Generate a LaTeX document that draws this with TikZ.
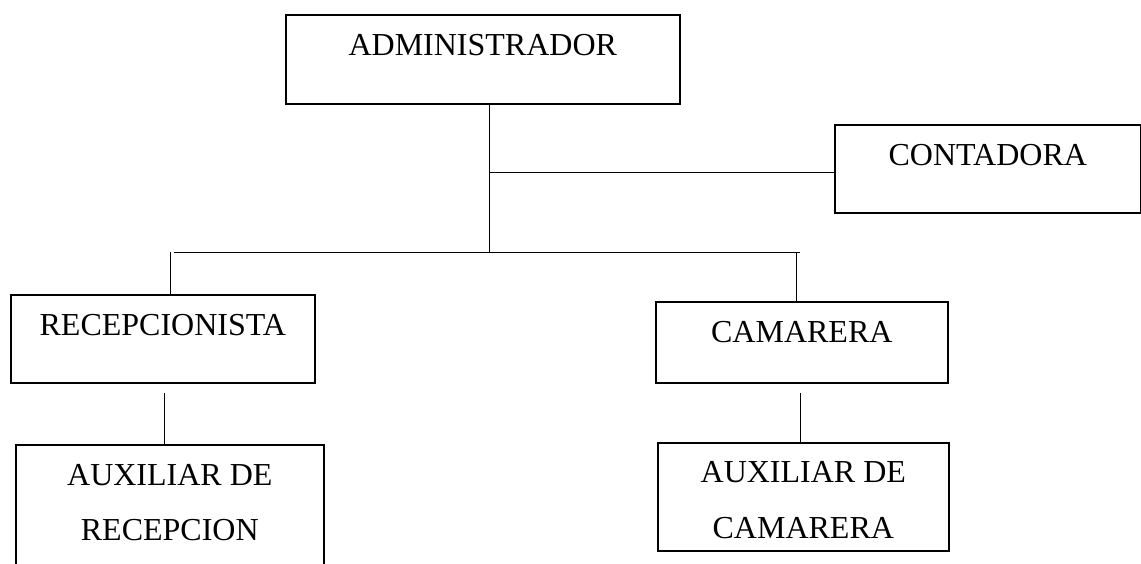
\documentclass[tikz,border=0pt]{standalone}
\usepackage{fontspec}
\setmainfont{Liberation Serif}
\begin{document}
\begin{tikzpicture}[x=1pt,y=-1pt,
  box/.style={draw,line width=1.6pt,rectangle,inner sep=0pt,anchor=north west},
  lbl/.style={anchor=base,inner sep=0pt,font=\fontsize{32}{38}\selectfont},
  link/.style={line width=0.9pt}]
\useasboundingbox (0,0) rectangle (1141,563);
\clip (0,0) rectangle (1141,563);

% boxes (width x height given in px-sized points)
\node[box,minimum width=394pt,minimum height=89pt] (admin) at (285,14) {};
\node[box,minimum width=306pt,minimum height=88pt] (conta) at (834,124) {};
\node[box,minimum width=304pt,minimum height=88pt] (recep) at (10,294) {};
\node[box,minimum width=292pt,minimum height=81pt] (cama) at (655,301) {};
\node[box,minimum width=308pt,minimum height=140pt] (auxrec) at (15,444) {};
\node[box,minimum width=291pt,minimum height=108pt] (auxcam) at (657,442) {};

% labels, set a fixed distance below each box's top edge
\node[lbl] (tadmin) at ([yshift=-41pt]admin.north) {ADMINISTRADOR};
\node[lbl] (tconta) at ([yshift=-41pt]conta.north) {CONTADORA};
\node[lbl] (trecep) at ([yshift=-41pt]recep.north) {RECEPCIONISTA};
\node[lbl] (tcama) at ([yshift=-41pt]cama.north) {CAMARERA};
\node[lbl] (tauxrec1) at ([yshift=-41pt]auxrec.north) {AUXILIAR DE};
\node[lbl] (tauxrec2) at ([yshift=-96pt]auxrec.north) {RECEPCION};
\node[lbl] (tauxcam1) at ([yshift=-40pt]auxcam.north) {AUXILIAR DE};
\node[lbl] (tauxcam2) at ([yshift=-96pt]auxcam.north) {CAMARERA};

% junction points of the trunk and the bus
\coordinate (jconta) at (489,172);
\coordinate (jbus) at (489,252);
\coordinate (busL) at (174,252);
\coordinate (busR) at (800,252);
\coordinate (dropL) at (170,252);
\coordinate (dropR) at (796,252);
\coordinate (subL) at (164,393);
\coordinate (subR) at (800,393);

% connectors
\draw[link] (admin.south -| jbus) -- (jbus);
\draw[link] (jconta) -- (jconta -| conta.west);
\draw[link] (busL) -- (busR);
\draw[link] (dropL) -- (dropL |- recep.north);
\draw[link] (dropR) -- (dropR |- cama.north);
\draw[link] (subL) -- (subL |- auxrec.north);
\draw[link] (subR) -- (subR |- auxcam.north);
\end{tikzpicture}
\end{document}
